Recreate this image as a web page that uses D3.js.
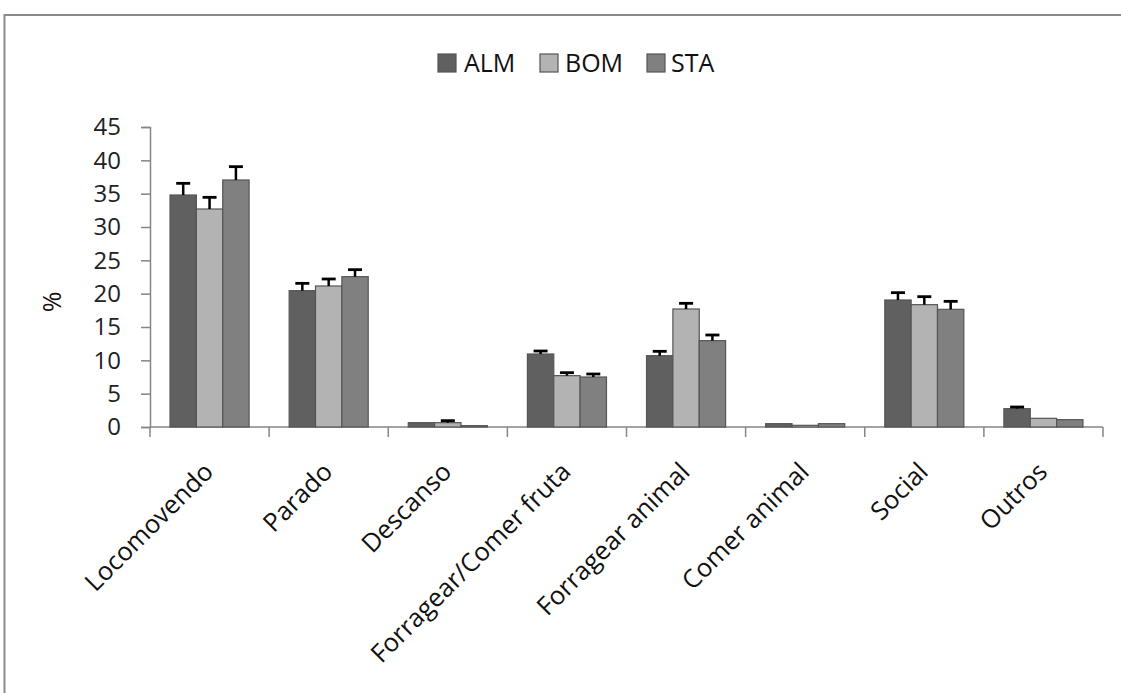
<!DOCTYPE html>
<html>
<head>
<meta charset="utf-8">
<script src="https://cdn.jsdelivr.net/npm/d3@7"></script>
<style>
  html, body { margin: 0; padding: 0; background: #fff; }
  svg { display: block; font-family: "Open Sans", "DejaVu Sans", sans-serif; }
</style>
</head>
<body>
<svg id="chart" width="1121" height="693"></svg>
<script>
// Activity budget (%) per behaviour category for each group
const categories = ["Locomovendo", "Parado", "Descanso", "Forragear/Comer fruta",
                    "Forragear animal", "Comer animal", "Social", "Outros"];
const seriesNames = ["ALM", "BOM", "STA"];
const valuesALM = [34.8, 20.45, 0.65, 10.95, 10.7, 0.5, 19.05, 2.75];
const valuesBOM = [32.7, 21.15, 0.65, 7.7, 17.7, 0.25, 18.35, 1.3];
const valuesSTA = [37.05, 22.55, 0.2, 7.5, 12.95, 0.5, 17.65, 1.1];
const errorsALM = [1.75, 1.1, 0.0, 0.45, 0.65, 0.0, 1.1, 0.25];
const errorsBOM = [1.75, 1.05, 0.3, 0.45, 0.85, 0.0, 1.2, 0.0];
const errorsSTA = [2.0, 1.05, 0.0, 0.45, 0.85, 0.0, 1.2, 0.0];
const yTicks = [0, 5, 10, 15, 20, 25, 30, 35, 40, 45];
const colors = ["#606060", "#b3b3b3", "#808080"];

const seriesValues = [valuesALM, valuesBOM, valuesSTA];
const seriesErrors = [errorsALM, errorsBOM, errorsSTA];

const svg = d3.select("#chart");
const axisColor = "#868686";

// Outer frame (top and left edges)
svg.append("path")
  .attr("d", "M4.5,693 L4.5,15 L1121,15")
  .attr("fill", "none").attr("stroke", "#8a8a8a").attr("stroke-width", 2);

const x0 = d3.scaleBand().domain(categories).range([150, 1103]).paddingInner(0).paddingOuter(0);
const x1 = d3.scaleBand().domain(seriesNames).range([0, x0.bandwidth()]).paddingOuter(0.76).paddingInner(0);
const y = d3.scaleLinear().domain([0, 45]).range([427, 127]);

// Y axis
const yAxis = svg.append("g").attr("transform", "translate(150,0)")
  .call(d3.axisLeft(y).tickValues(yTicks).tickSize(9).tickPadding(20));
yAxis.select(".domain").attr("stroke", axisColor).attr("stroke-width", 1.5);
yAxis.selectAll(".tick line").attr("stroke", axisColor).attr("stroke-width", 1.5);
yAxis.selectAll(".tick text").attr("fill", "#222").attr("font-size", 24)
  .attr("font-family", "'Open Sans', sans-serif");

// X axis: ticks at category boundaries
const xAxisG = svg.append("g").attr("transform", "translate(0,427)");
xAxisG.append("line").attr("x1", 150).attr("x2", 1103).attr("y1", 0).attr("y2", 0)
  .attr("stroke", axisColor).attr("stroke-width", 1.5);
const boundaries = categories.map(c => x0(c)).concat([x0(categories[categories.length - 1]) + x0.bandwidth()]);
xAxisG.selectAll("line.tk").data(boundaries).enter().append("line")
  .attr("class", "tk")
  .attr("x1", d => d).attr("x2", d => d).attr("y1", 0).attr("y2", 10)
  .attr("stroke", axisColor).attr("stroke-width", 1.5);

// Category labels, rotated
svg.append("g").selectAll("text").data(categories).enter().append("text")
  .attr("transform", d => `translate(${x0(d) + x0.bandwidth() / 2 - 1},467) rotate(-45)`)
  .attr("text-anchor", "end")
  .attr("dy", "0.35em")
  .attr("font-size", 25.5)
  .attr("fill", "#111")
  .text(d => d);

// Y axis title
svg.append("text")
  .attr("transform", "translate(52,302) rotate(-90)")
  .attr("text-anchor", "middle").attr("dy", "0.35em")
  .attr("font-size", 25).attr("fill", "#111")
  .text("%");

// Bars
const rows = [];
categories.forEach((c, i) => {
  seriesNames.forEach((s, j) => {
    rows.push({ cat: c, series: s, value: seriesValues[j][i], err: seriesErrors[j][i], color: colors[j] });
  });
});

svg.append("g").selectAll("rect").data(rows).enter().append("rect")
  .attr("x", d => x0(d.cat) + x1(d.series))
  .attr("y", d => y(d.value))
  .attr("width", x1.bandwidth())
  .attr("height", d => y(0) - y(d.value))
  .attr("fill", d => d.color)
  .attr("stroke", "#555")
  .attr("stroke-width", 1.2);

// Error bars (upper only)
const eb = svg.append("g").selectAll("g").data(rows.filter(d => d.err > 0)).enter().append("g");
eb.append("line")
  .attr("x1", d => x0(d.cat) + x1(d.series) + x1.bandwidth() / 2)
  .attr("x2", d => x0(d.cat) + x1(d.series) + x1.bandwidth() / 2)
  .attr("y1", d => y(d.value))
  .attr("y2", d => y(d.value + d.err))
  .attr("stroke", "#000").attr("stroke-width", 2.5);
eb.append("line")
  .attr("x1", d => x0(d.cat) + x1(d.series) + x1.bandwidth() / 2 - 7)
  .attr("x2", d => x0(d.cat) + x1(d.series) + x1.bandwidth() / 2 + 7)
  .attr("y1", d => y(d.value + d.err))
  .attr("y2", d => y(d.value + d.err))
  .attr("stroke", "#000").attr("stroke-width", 2.8);

// Legend
const legendItems = [
  { name: "ALM", sx: 438, tx: 464 },
  { name: "BOM", sx: 540, tx: 565 },
  { name: "STA", sx: 647, tx: 671 }
];
const lg = svg.append("g").selectAll("g").data(legendItems).enter().append("g");
lg.append("rect")
  .attr("x", d => d.sx).attr("y", 54).attr("width", 18).attr("height", 18)
  .attr("fill", (d, i) => colors[i]).attr("stroke", "#555").attr("stroke-width", 1.2);
lg.append("text")
  .attr("x", d => d.tx).attr("y", 63).attr("dy", "0.35em")
  .attr("font-size", 25).attr("fill", "#111")
  .text(d => d.name);
</script>
</body>
</html>
